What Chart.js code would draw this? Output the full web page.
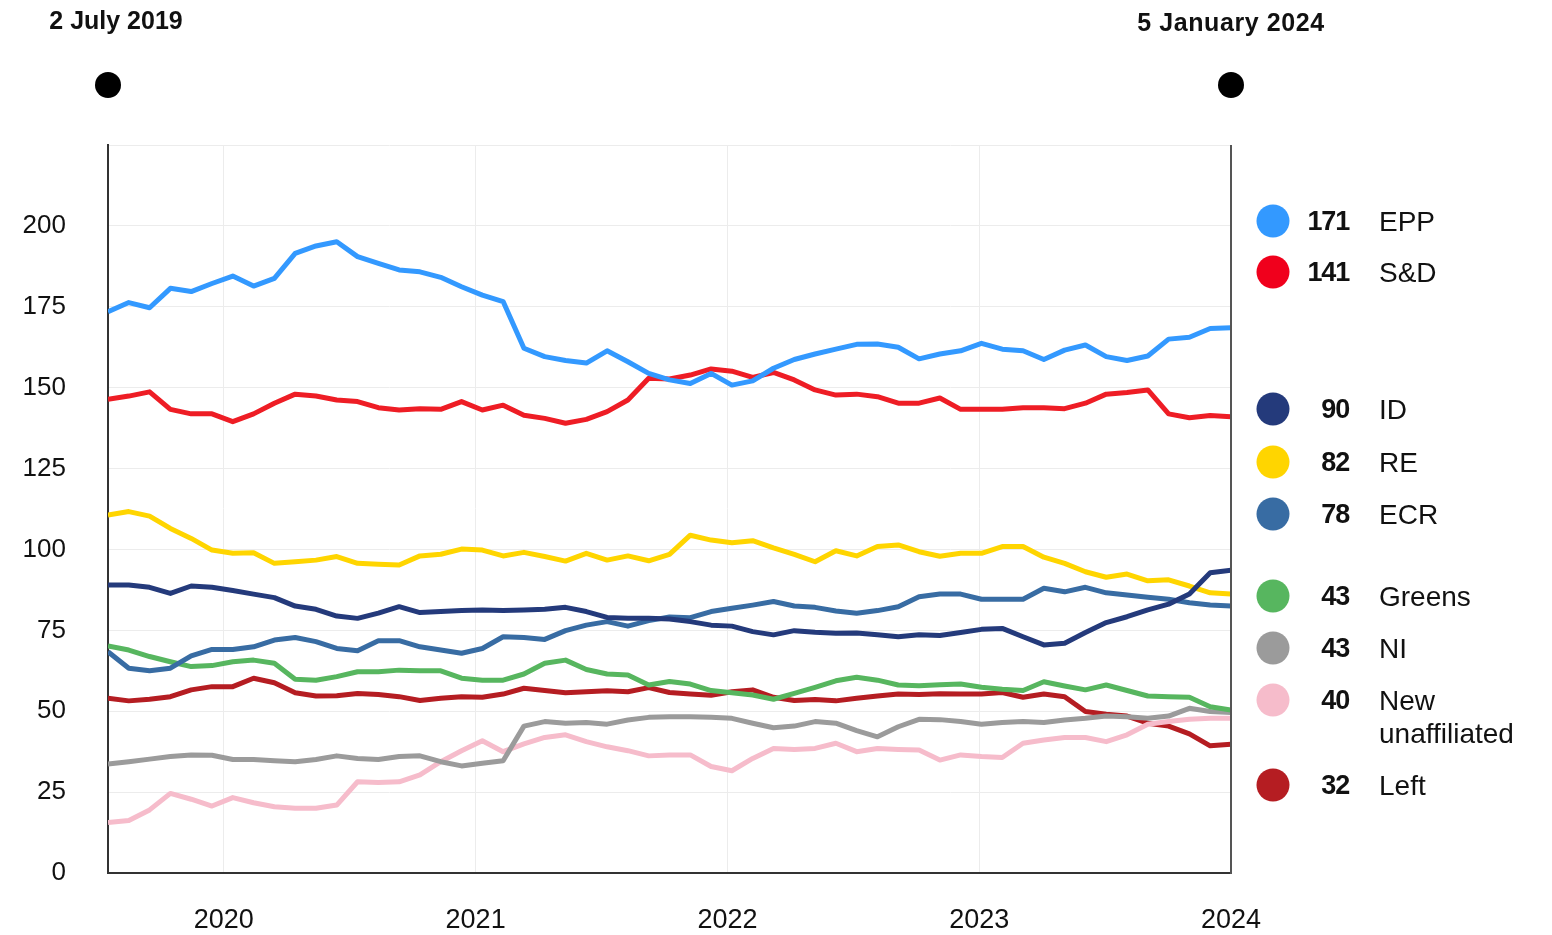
<!DOCTYPE html>
<html><head><meta charset="utf-8">
<script src="https://cdn.jsdelivr.net/npm/chart.js@4.4.1/dist/chart.umd.min.js"></script>
<style>
html,body{margin:0;padding:0;background:#fff;}
#wrap{position:relative;width:1552px;height:935px;overflow:hidden;font-family:'Liberation Sans',Arial,sans-serif;color:#111;}
canvas{position:absolute;left:0;top:0;}
.hdr{position:absolute;font-weight:bold;font-size:25px;line-height:25px;white-space:nowrap;transform:translateX(-50%);}
.pin{position:absolute;width:26px;height:26px;border-radius:50%;background:#000;transform:translate(-50%,-50%);}
.lg-dot{position:absolute;width:33px;height:33px;border-radius:50%;transform:translate(-50%,-50%);}
.lg-num{position:absolute;font-weight:bold;font-size:27px;line-height:30px;text-align:right;width:90px;letter-spacing:-1.2px;transform:translateY(-50%);}
.lg-name{position:absolute;font-size:28px;line-height:33px;white-space:nowrap;}
</style></head>
<body><div id="wrap"><canvas id="c" width="1552" height="935"></canvas></div>
<script>
// ---- data ----
const startLabel = '2 July 2019';
const endLabel = '5 January 2024';
const parties = ['EPP','S&D','ID','RE','ECR','Greens','NI','New unaffiliated','Left'];
const seats = [171,141,90,82,78,43,43,40,32];
const yearTicks = [2020,2021,2022,2023,2024];
const xFirst = 2019.54, xLast = 2024.0; // first and last sample (axis range in years)

const epp = [173.5,176.3,174.7,180.7,179.7,182.2,184.5,181.4,183.8,191.5,
  193.8,195.1,190.5,188.4,186.4,185.8,184.1,181.2,178.6,176.6,
  162.2,159.6,158.4,157.6,161.4,158.0,154.4,152.4,151.3,154.4,
  150.8,152.1,156.0,158.7,160.4,161.9,163.4,163.5,162.5,158.9,
  160.4,161.4,163.7,161.9,161.4,158.7,161.6,163.2,159.6,158.4,
  159.8,165.0,165.6,168.3,168.5];
const sd = [146.4,147.4,148.7,143.3,141.9,141.9,139.5,141.9,145.2,148.0,
  147.4,146.2,145.7,143.8,143.1,143.5,143.3,145.7,143.1,144.6,
  141.5,140.5,139.0,140.2,142.6,146.2,152.9,152.7,153.9,155.8,
  155.1,153.2,154.7,152.4,149.3,147.7,148.0,147.2,145.2,145.2,
  146.8,143.3,143.3,143.3,143.8,143.8,143.5,145.2,148.0,148.5,
  149.3,141.9,140.7,141.4,141.0];
const id = [89.0,89.0,88.3,86.4,88.7,88.3,87.3,86.2,85.1,82.5,
  81.5,79.4,78.7,80.3,82.3,80.5,80.8,81.1,81.3,81.1,
  81.3,81.5,82.1,80.8,79.0,78.7,78.7,78.5,77.7,76.6,
  76.3,74.6,73.6,74.9,74.4,74.1,74.2,73.6,73.0,73.6,
  73.4,74.3,75.3,75.6,73.0,70.5,71.0,74.3,77.4,79.2,
  81.3,83.1,86.2,92.8,93.6];
const re = [110.6,111.7,110.3,106.5,103.4,99.8,98.8,99.0,95.7,96.2,
  96.7,97.8,95.7,95.4,95.2,98.0,98.5,100.1,99.8,98.0,
  99.1,97.8,96.4,98.8,96.7,98.0,96.5,98.5,104.4,102.9,
  102.1,102.7,100.5,98.5,96.2,99.6,98.0,100.9,101.4,99.3,
  97.9,98.8,98.8,100.9,100.9,97.6,95.7,93.1,91.4,92.4,
  90.3,90.6,88.7,86.6,86.2];
const ecr = [68.4,63.3,62.5,63.3,67.1,69.1,69.1,69.9,72.0,72.8,
  71.5,69.4,68.7,71.8,71.8,69.9,68.9,67.9,69.4,73.0,
  72.8,72.2,74.9,76.6,77.7,76.3,78.0,79.1,78.9,80.8,
  81.8,82.8,83.9,82.5,82.1,81.0,80.3,81.1,82.3,85.4,
  86.2,86.2,84.6,84.6,84.6,88.0,86.9,88.3,86.6,85.9,
  85.2,84.6,83.5,82.8,82.5];
const greens = [70.2,68.9,66.9,65.3,63.8,64.1,65.3,65.8,64.8,59.9,
  59.6,60.7,62.2,62.2,62.7,62.5,62.5,60.2,59.6,59.6,
  61.5,64.8,65.8,62.9,61.5,61.2,58.1,59.2,58.4,56.4,
  55.7,55.0,53.7,55.5,57.4,59.4,60.5,59.6,58.1,57.9,
  58.2,58.4,57.4,56.8,56.4,59.1,57.8,56.6,58.1,56.4,
  54.7,54.5,54.3,51.4,50.4];
const ni = [33.7,34.4,35.2,36.0,36.5,36.4,35.1,35.1,34.7,34.4,
  35.1,36.2,35.4,35.1,36.0,36.2,34.4,33.1,33.9,34.7,
  45.4,46.8,46.3,46.5,46.0,47.3,48.1,48.3,48.3,48.1,
  47.8,46.3,44.9,45.4,46.8,46.3,44.0,42.1,45.2,47.5,
  47.4,46.8,46.0,46.5,46.8,46.5,47.3,47.8,48.5,48.3,
  47.8,48.5,50.9,49.9,49.6];
const newUnaff = [15.6,16.2,19.5,24.6,22.8,20.7,23.3,21.7,20.5,20.0,
  20.0,21.0,28.2,28.0,28.2,30.3,34.4,37.8,40.9,37.5,
  39.9,41.9,42.7,40.6,39.0,37.8,36.2,36.5,36.5,32.9,
  31.6,35.4,38.5,38.2,38.5,40.1,37.5,38.5,38.2,38.0,
  34.9,36.5,36.0,35.7,40.1,41.1,41.9,41.9,40.6,42.7,
  46.0,46.8,47.5,47.8,47.8];
const left = [54.0,53.2,53.7,54.5,56.6,57.6,57.6,60.2,58.8,55.7,
  54.7,54.8,55.5,55.2,54.5,53.3,54.0,54.5,54.3,55.3,
  57.1,56.4,55.7,56.0,56.3,56.0,57.3,55.8,55.3,54.9,
  56.0,56.6,54.3,53.3,53.6,53.2,54.0,54.7,55.3,55.2,
  55.4,55.3,55.3,55.8,54.3,55.3,54.5,49.9,49.1,48.5,
  46.3,45.4,43.0,39.3,39.8];

const series = [epp, sd, id, re, ecr, greens, ni, newUnaff, left];

// ---- styles / layout ----
const colors = ['#3399ff','#ee1d25','#243a7b','#ffd500','#386ca3','#57b65f','#9b9b9b','#f6bccb','#b51d22'];
const legendColors = ['#3399ff','#f0001c','#243a7b','#ffd500','#386ca3','#57b65f','#9b9b9b','#f6bccb','#b51d22'];
const legendRowY = [221,272,409,462,514,596,648,700,785];
const FONT = "'Liberation Sans', Arial, sans-serif";

const toPoints = vals => vals.map((v, i) => ({
  x: xFirst + i * (xLast - xFirst) / (vals.length - 1), y: v }));

const frame = {
  id: 'frame',
  afterDatasetsDraw(chart) {
    const {ctx, chartArea: a} = chart;
    ctx.save();
    ctx.strokeStyle = '#555';
    ctx.lineWidth = 2;
    ctx.beginPath();
    ctx.moveTo(a.right, a.top);
    ctx.lineTo(a.right, a.bottom + 1);
    ctx.stroke();
    ctx.restore();
  }
};

const chart = new Chart(document.getElementById('c'), {
  type: 'line',
  data: {
    datasets: series.map((vals, i) => ({
      label: parties[i],
      data: toPoints(vals),
      borderColor: colors[i],
      backgroundColor: colors[i],
      borderWidth: 5,
      pointRadius: 0,
      tension: 0,
      borderJoinStyle: 'round',
      fill: false
    }))
  },
  options: {
    responsive: false,
    animation: false,
    devicePixelRatio: 1,
    layout: { padding: { top: 145, left: 0, right: 321, bottom: 0 } },
    plugins: { legend: { display: false }, tooltip: { enabled: false } },
    scales: {
      x: {
        type: 'linear', min: xFirst, max: xLast,
        afterBuildTicks: s => { s.ticks = yearTicks.map(v => ({ value: v })); },
        afterFit: s => { s.height = 62; },
        grid: { color: '#ececec', lineWidth: 1, drawTicks: false },
        border: { display: true, color: '#333', width: 2 },
        ticks: { padding: 31, color: '#111', font: { family: FONT, size: 27 },
          maxRotation: 0, autoSkip: false, callback: v => String(v) }
      },
      y: {
        min: 0, max: 225,
        afterFit: s => { s.width = 108; },
        grid: { color: '#ececec', lineWidth: 1, drawTicks: false },
        border: { display: true, color: '#333', width: 2 },
        ticks: { stepSize: 25, padding: 42, color: '#111', font: { family: FONT, size: 26 },
          callback: v => (v === 225 ? '' : String(v)) }
      }
    }
  },
  plugins: [frame]
});

// ---- header dates and pins ----
const wrap = document.getElementById('wrap');
const a = chart.chartArea;
function add(cls, css, text) {
  const d = document.createElement('div');
  d.className = cls;
  Object.assign(d.style, css);
  if (text) d.textContent = text;
  wrap.appendChild(d);
  return d;
}
add('hdr', { left: (a.left + 8) + 'px', top: '8px' }, startLabel);
add('hdr', { left: a.right + 'px', top: '10px', letterSpacing: '0.6px' }, endLabel);
add('pin', { left: a.left + 'px', top: '85px' });
add('pin', { left: a.right + 'px', top: '85px' });

// ---- legend ----
parties.forEach((p, i) => {
  const y = legendRowY[i];
  add('lg-dot', { left: '1273px', top: y + 'px', background: legendColors[i] });
  add('lg-num', { left: (1349 - 90) + 'px', top: y + 'px' }, String(seats[i]));
  const nm = add('lg-name', { left: '1379px', top: (y - 16.5) + 'px' });
  p.split(' ').forEach((w, j) => {
    if (j) nm.appendChild(document.createElement('br'));
    nm.appendChild(document.createTextNode(w));
  });
});
</script>
</body></html>
